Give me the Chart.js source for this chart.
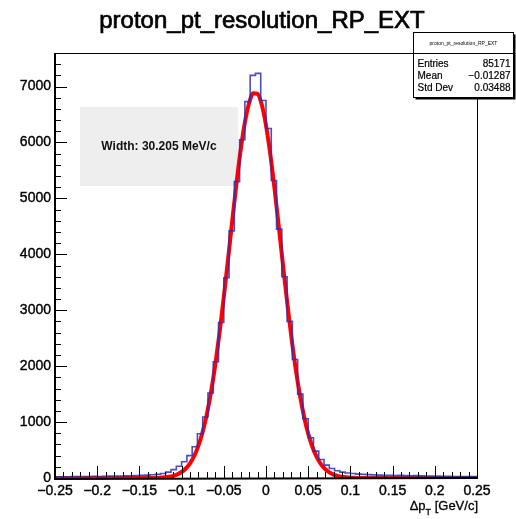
<!DOCTYPE html>
<html>
<head>
<meta charset="utf-8">
<script src="https://cdn.jsdelivr.net/npm/chart.js@4.4.1/dist/chart.umd.min.js"></script>
<style>
  html, body { margin: 0; padding: 0; background: #fff; }
  #wrap { width: 516px; height: 519px; }
</style>
</head>
<body>
<div id="wrap"><canvas id="hist" width="516" height="519"></canvas></div>
<script>
// histogram binning and contents (80 bins, -0.25 .. 0.25)
const xMin = -0.25;
const xMax = 0.25;
const counts = [
  20, 22, 18, 25, 24, 28, 26, 30, 27, 32, 35, 33,
  36, 38, 40, 44, 48, 52,
  58, 66, 80, 105, 150, 210, 290, 400, 560, 790, 1090, 1520, 2080, 2780, 3580, 4420, 5300, 6050,
  6730, 7200, 7235, 6750, 6250, 5320,
  4450, 3600, 2800, 2120, 1500, 1060, 720, 480, 330, 230, 170, 130, 105, 90, 80, 70, 65, 60,
  55, 52, 50, 48, 45, 47, 43, 40, 42, 38, 36, 35, 33, 30, 32, 28, 27, 25, 26, 24
];

// gaussian fit curve, read every 0.005 from -0.25 to 0.25
const fitStep = 0.005;
const fitY = [
  0, 0, 0, 0, 0, 0, 0, 0, 0, 0, 0, 0, 0, 0, 0, 0, 0, 0, 0, 0, 0, 0, 0, 0,
  4, 7, 13, 22, 39, 65, 107, 170, 263, 396, 580, 827, 1148, 1549, 2035, 2600,
  3231, 3909, 4598, 5267, 5868, 6359, 6707, 6882, 6870, 6673, 6307, 5800, 5188, 4517,
  3826, 3153, 2528, 1971, 1497, 1105, 794, 555, 378, 250, 161, 101, 61, 37, 21, 12, 6, 3,
  0, 0, 0, 0, 0, 0, 0, 0, 0, 0, 0, 0, 0, 0, 0, 0, 0, 0, 0, 0, 0, 0, 0, 0, 0, 0, 0, 0, 0
];

const yMax = 7600;
const xMajor = [-0.25, -0.2, -0.15, -0.1, -0.05, 0, 0.05, 0.1, 0.15, 0.2, 0.25];
const yMajor = [0, 1000, 2000, 3000, 4000, 5000, 6000, 7000];

const title = 'proton_pt_resolution_RP_EXT';
const statLabels = ['Entries', 'Mean', 'Std Dev'];
const statValues = ['85171', '\u22120.01287', '0.03488'];
const widthText = 'Width: 30.205 MeV/c';

const FONT = '"Liberation Sans", Arial, Helvetica, sans-serif';

const binW = (xMax - xMin) / counts.length;
const histPts = counts.map((c, i) => ({ x: xMin + i * binW, y: c }));
histPts.push({ x: xMax, y: counts[counts.length - 1] });
const fitPts = fitY.map((v, i) => ({ x: xMin + i * fitStep, y: v }));

function fmt(v) {
  const r = Math.round(v * 1000) / 1000;
  return r < 0 ? '\u2212' + String(-r) : String(r);
}

// fill + thin stroke, the reference text is a bit heavier than plain regular
function heavyText(ctx, s, x, y, w) {
  ctx.fillText(s, x, y);
  ctx.lineWidth = w;
  ctx.strokeStyle = ctx.fillStyle;
  ctx.strokeText(s, x, y);
}

const rootPlugin = {
  id: 'rootStyle',
  beforeDatasetsDraw(chart) {
    const ctx = chart.ctx;
    // fit result box
    ctx.save();
    ctx.fillStyle = '#eeeeee';
    ctx.fillRect(80, 107, 158, 79);
    ctx.fillStyle = '#111';
    ctx.font = 'bold 12px ' + FONT;
    ctx.textAlign = 'center';
    ctx.textBaseline = 'middle';
    ctx.fillText(widthText, 159, 147);
    ctx.restore();
  },
  afterDatasetsDraw(chart) {
    const ctx = chart.ctx;
    const a = chart.chartArea;
    const xs = chart.scales.x, ys = chart.scales.y;
    ctx.save();
    // frame
    ctx.strokeStyle = '#000';
    ctx.lineWidth = 1;
    ctx.strokeRect(a.left + 0.5, a.top + 0.5, a.right - a.left, a.bottom - a.top);
    ctx.lineWidth = 2;
    ctx.beginPath();
    ctx.moveTo(a.left, a.top); ctx.lineTo(a.left, a.bottom + 1); ctx.lineTo(a.right + 1, a.bottom);
    ctx.stroke();
    // inward ticks
    ctx.lineWidth = 1;
    ctx.beginPath();
    for (let k = 0; k <= 50; k++) {
      const v = xMin + k * 0.01;
      const px = Math.round(xs.getPixelForValue(v)) + 0.5;
      const len = (k % 5 === 0) ? 12 : 6;
      ctx.moveTo(px, a.bottom); ctx.lineTo(px, a.bottom - len);
    }
    for (let v = 0; v <= yMax; v += 200) {
      const py = Math.round(ys.getPixelForValue(v)) + 0.5;
      const len = (v % 1000 === 0) ? 12 : 6;
      ctx.moveTo(a.left, py); ctx.lineTo(a.left + len, py);
    }
    ctx.stroke();

    // title
    ctx.fillStyle = '#000';
    ctx.font = '24px ' + FONT;
    ctx.textAlign = 'center';
    ctx.textBaseline = 'alphabetic';
    heavyText(ctx, title, 262, 28, 0.7);

    // axis title  Δp_T [GeV/c]
    ctx.font = '13px ' + FONT;
    ctx.textAlign = 'right';
    const rest = ' [GeV/c]';
    const restW = ctx.measureText(rest).width;
    heavyText(ctx, rest, a.right + 1, 510, 0.3);
    ctx.font = '9px ' + FONT;
    const subW = ctx.measureText('T').width;
    heavyText(ctx, 'T', a.right + 1 - restW, 515, 0.3);
    ctx.font = '13px ' + FONT;
    heavyText(ctx, '\u0394p', a.right + 1 - restW - subW, 510, 0.3);

    // stats box
    const bx = 413.5, by = 32.5, bw = 100, bh = 65;
    ctx.fillStyle = '#fff';
    ctx.fillRect(bx, by, bw, bh);
    ctx.strokeStyle = '#000';
    ctx.lineWidth = 1;
    ctx.strokeRect(bx, by, bw, bh);
    ctx.lineWidth = 2;
    ctx.beginPath();
    ctx.moveTo(bx + bw + 1, by + 2); ctx.lineTo(bx + bw + 1, by + bh + 1); ctx.lineTo(bx + 2, by + bh + 1);
    ctx.stroke();
    ctx.lineWidth = 1;
    ctx.beginPath();
    ctx.moveTo(bx, by + 21); ctx.lineTo(bx + bw, by + 21);
    ctx.stroke();
    ctx.fillStyle = '#000';
    ctx.font = '5px ' + FONT;
    ctx.textAlign = 'center';
    ctx.textBaseline = 'middle';
    ctx.fillText(title, bx + bw / 2, by + 11);
    ctx.font = '10px ' + FONT;
    statLabels.forEach((lab, i) => {
      const ty = by + 32 + i * 12;
      ctx.textAlign = 'left';
      heavyText(ctx, lab, bx + 4, ty, 0.2);
      ctx.textAlign = 'right';
      heavyText(ctx, statValues[i], bx + bw - 3, ty, 0.2);
    });
    ctx.restore();
  }
};

new Chart(document.getElementById('hist'), {
  type: 'line',
  data: {
    datasets: [
      {
        label: 'hist',
        data: histPts,
        stepped: 'before',
        borderColor: 'rgba(45, 45, 185, 0.85)',
        borderWidth: 1.6,
        pointRadius: 0,
        fill: false
      },
      {
        label: 'fit',
        data: fitPts,
        borderColor: '#ff0000',
        borderWidth: 4,
        pointRadius: 0,
        cubicInterpolationMode: 'monotone',
        fill: false
      }
    ]
  },
  options: {
    responsive: false,
    animation: false,
    events: [],
    layout: { padding: { left: 0, right: 39, top: 53, bottom: 0 } },
    plugins: { legend: { display: false }, tooltip: { enabled: false } },
    scales: {
      x: {
        type: 'linear',
        min: xMin,
        max: xMax,
        afterFit(scale) { scale.height = 41; },
        afterBuildTicks(scale) { scale.ticks = xMajor.map(v => ({ value: v })); },
        grid: { display: false, drawTicks: false },
        border: { display: false },
        ticks: {
          padding: 5,
          maxRotation: 0,
          autoSkip: false,
          color: '#000',
          textStrokeColor: '#000',
          textStrokeWidth: 0.4,
          font: { family: FONT, size: 14 },
          callback: v => fmt(v)
        }
      },
      y: {
        type: 'linear',
        min: 0,
        max: yMax,
        afterFit(scale) { scale.width = 55; },
        afterBuildTicks(scale) { scale.ticks = yMajor.map(v => ({ value: v })); },
        grid: { display: false, drawTicks: false },
        border: { display: false },
        ticks: {
          padding: 4,
          autoSkip: false,
          color: '#000',
          textStrokeColor: '#000',
          textStrokeWidth: 0.4,
          font: { family: FONT, size: 14 },
          callback: v => String(v)
        }
      }
    }
  },
  plugins: [rootPlugin]
});
</script>
</body>
</html>
